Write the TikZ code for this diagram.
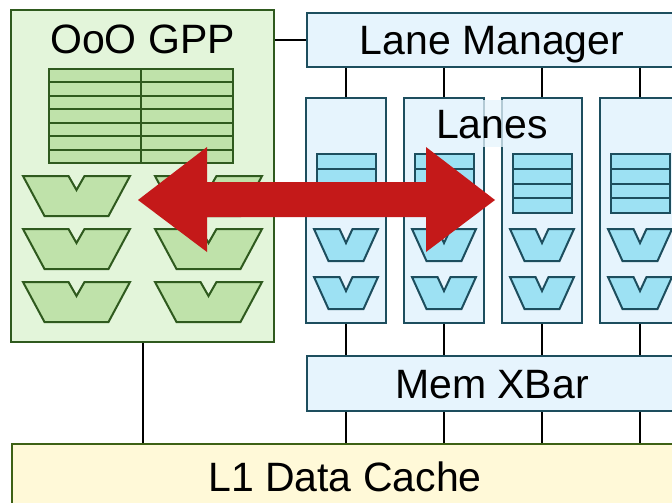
\documentclass[tikz,border=0pt]{standalone}
\usepackage{fontspec}
\setmainfont{Liberation Sans}
\usetikzlibrary{positioning}

\definecolor{gppfill}{HTML}{E3F5DA}
\definecolor{gppline}{HTML}{2F5A1E}
\definecolor{gppcell}{HTML}{BFE2AA}
\definecolor{lanefill}{HTML}{E6F4FD}
\definecolor{laneline}{HTML}{1D4E5E}
\definecolor{lanecell}{HTML}{9DE1F3}
\definecolor{cachefill}{HTML}{FFF9D8}
\definecolor{cacheline}{HTML}{3D6115}
\definecolor{arrowred}{HTML}{C41919}

\tikzset{
  pics/gppalu/.style={code={\draw[gppunit] (-53.5,0) -- (-8,0) -- (0,14) -- (8,0) -- (53.5,0) -- (32,40) -- (-32,40) -- cycle;}},
  pics/lanealu/.style={code={\draw[laneunit] (-32,0) -- (-6.5,0) -- (0,14) -- (6.5,0) -- (32,0) -- (17.5,32) -- (-17.5,32) -- cycle;}}
}

\begin{document}
\begin{tikzpicture}[x=1pt,y=-1pt,
  every node/.style={font=\fontsize{41}{49}\selectfont,text height=29pt,text depth=0pt},
  gppbox/.style={draw=gppline,line width=2.2pt,fill=gppfill,inner sep=0pt},
  lanebox/.style={draw=laneline,line width=2.2pt,fill=lanefill,inner sep=0pt},
  cachebox/.style={draw=cacheline,line width=2.2pt,fill=cachefill,inner sep=0pt},
  gppunit/.style={draw=gppline,line width=2pt,fill=gppcell},
  laneunit/.style={draw=laneline,line width=2pt,fill=lanecell},
  wire/.style={draw=black,line width=2pt}]
\clip (0,0) rectangle (672,503);

% general purpose core
\node [gppbox,minimum width=263pt,minimum height=332pt] (gpp) at (142.5,176) {};
\node [inner sep=0pt,below=15pt of gpp.north] (gpptitle) {OoO GPP};
\draw [gppunit] (49,69) rectangle (233,163);
\foreach \r in {1,...,6} \draw [gppunit] (49,69+13.43*\r) -- (233,69+13.43*\r);
\draw [gppunit] (141,69) -- (141,163);
\foreach \y in {176,229,282} {
  \pic at (76.5,\y) {gppalu};
  \pic at (208.5,\y) {gppalu};
}

% shared blocks
\node [lanebox,minimum width=370pt,minimum height=54pt] (mgr) at (492,40) {Lane Manager};
\node [lanebox,minimum width=370pt,minimum height=55pt] (xbar) at (492,383.5) {Mem XBar};
\node [cachebox,minimum width=666pt,minimum height=66pt] (l1) at (345,477) {L1 Data Cache};

% lanes
\foreach \n/\x in {1/346,2/444,3/542,4/640} {
  \node [lanebox,minimum width=80pt,minimum height=225pt] (lane\n) at (\x,210.5) {};
  \draw [laneunit] (\x-29.5,154) rectangle (\x+29.5,213);
  \foreach \r in {1,2,3} \draw [laneunit] (\x-29.5,154+14.75*\r) -- (\x+29.5,154+14.75*\r);
  \pic at (\x,229) {lanealu};
  \pic at (\x,277) {lanealu};
}
\node [fill=lanefill,fill opacity=0.75,text opacity=1,inner xsep=4pt,inner ysep=0pt,minimum height=47pt] (lanes) at (492,123.5) {Lanes};

% wires
\draw [wire] (gpp.east |- mgr.west) -- (mgr.west);
\draw [wire] (gpp.south) -- (gpp.south |- l1.north);
\foreach \n in {1,...,4} {
  \draw [wire] (mgr.south -| lane\n.north) -- (lane\n.north);
  \draw [wire] (lane\n.south) -- (xbar.north -| lane\n.south);
  \draw [wire] (xbar.south -| lane\n.south) -- (l1.north -| lane\n.south);
}

% migration arrow
\coordinate (tipL) at (138,200);
\coordinate (tipR) at (495,200);
\fill [arrowred] (tipL) -- ++(69,-53) -- ++(0,35) -- ++(219,0) -- ++(0,-35) -- (tipR)
  -- ++(-69,52) -- ++(0,-35) -- ++(-219,0) -- ++(0,35) -- cycle;
\end{tikzpicture}
\end{document}
